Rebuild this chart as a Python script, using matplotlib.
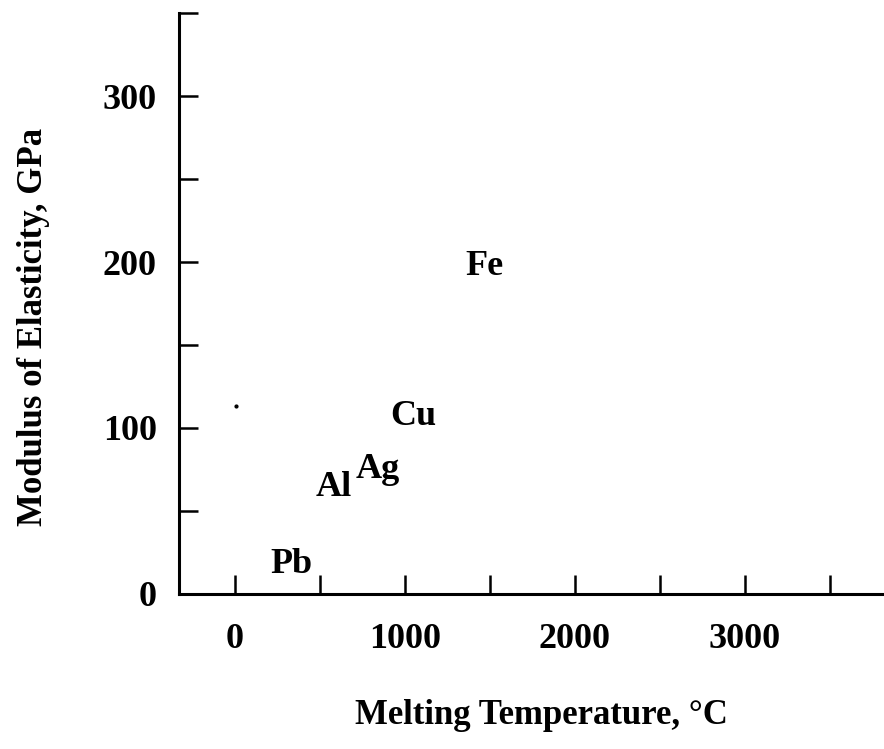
import matplotlib.pyplot as plt

# element labels placed at (melting temperature, modulus)
elements = ["Pb", "Al", "Ag", "Cu", "Fe"]
melt_temp = [330, 580, 840, 1050, 1465]      # deg C (label centre)
modulus = [18, 64, 75, 107, 197]             # GPa (label centre)

# stray speck visible on the scan
speck_x = [8]
speck_y = [113]

x_major = [0, 1000, 2000, 3000]
x_minor = [500, 1500, 2500, 3500]
y_major = [0, 100, 200, 300]
y_minor = [50, 150, 250, 350]

plt.rcParams["font.family"] = ["Liberation Serif", "DejaVu Serif"]

fig = plt.figure(figsize=(8.84, 7.49), dpi=100)
ax = fig.add_axes([0.2025, 0.207, 0.7975, 0.7756])

ax.set_xlim(-330, 3820)
ax.set_ylim(0, 350)

for name, x, y in zip(elements, melt_temp, modulus):
    ax.text(x, y, name, ha="center", va="center", fontsize=26,
            fontweight="bold", color="black")

ax.plot(speck_x, speck_y, "o", color="black", markersize=2)

# spines: only left and bottom, heavy like the printed figure
for side in ["top", "right"]:
    ax.spines[side].set_visible(False)
for side in ["left", "bottom"]:
    ax.spines[side].set_linewidth(2.2)
    ax.spines[side].set_color("black")

ax.set_xticks(x_major)
ax.set_xticks(x_minor, minor=True)
ax.set_yticks(y_major)
ax.set_yticks(y_minor, minor=True)

ax.tick_params(axis="both", which="both", direction="in", width=1.8,
               length=14, color="black")
ax.tick_params(axis="x", which="major", pad=21)
ax.tick_params(axis="y", which="major", pad=16)

for lab in ax.get_xticklabels() + ax.get_yticklabels():
    lab.set_fontsize(26)
    lab.set_fontweight("bold")

fig.text(0.613, 0.045, "Melting Temperature, \u00b0C", ha="center",
         va="center", fontsize=25, fontweight="bold")
fig.text(0.038, 0.563, "Modulus of Elasticity, GPa", ha="center",
         va="center", rotation=90, fontsize=25, fontweight="bold")

fig.savefig("out.png", dpi=100)
